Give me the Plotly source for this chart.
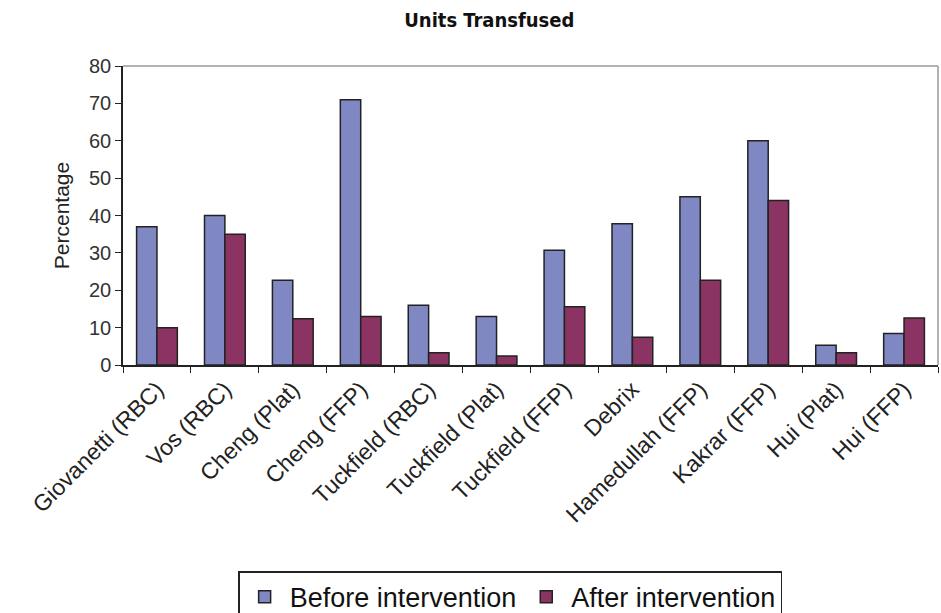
import plotly.graph_objects as go

studies = ["Giovanetti (RBC)", "Vos (RBC)", "Cheng (Plat)", "Cheng (FFP)",
           "Tuckfield (RBC)", "Tuckfield (Plat)", "Tuckfield (FFP)", "Debrix",
           "Hamedullah (FFP)", "Kakrar (FFP)", "Hui (Plat)", "Hui (FFP)"]
before = [37, 40, 22.7, 71, 16, 13, 30.7, 37.8, 45, 60, 5.3, 8.4]
after = [10, 35, 12.4, 13, 3.3, 2.4, 15.6, 7.4, 22.7, 44, 3.3, 12.6]

font = "Liberation Sans, Arial, sans-serif"

fig = go.Figure()
fig.add_trace(go.Bar(x=studies, y=before, name="Before intervention",
                     marker=dict(color="#8088C4", line=dict(color="#222222", width=1.5))))
fig.add_trace(go.Bar(x=studies, y=after, name="After intervention",
                     marker=dict(color="#8B3463", line=dict(color="#222222", width=1.5))))

fig.update_layout(
    width=941, height=613,
    margin=dict(l=123, r=3, t=66, b=248, autoexpand=False),
    paper_bgcolor="white", plot_bgcolor="white",
    barmode="group", bargap=0.4, bargroupgap=0,
    title=dict(text="<b>Units Transfused</b>", x=0.52, xanchor="center", y=0.967, yanchor="middle",
               font=dict(family="DejaVu Sans Condensed, Liberation Sans, sans-serif", size=20,
                         color="#111111")),
    font=dict(family=font, color="#222222"),
    xaxis=dict(showline=True, linecolor="#222222", linewidth=1.5, ticks="outside", ticklen=6,
               tickcolor="#222222", tickson="boundaries", tickangle=-45, automargin=False,
               tickfont=dict(size=23, color="#222222"), mirror=False),
    yaxis=dict(range=[0, 80], dtick=10, showgrid=False, showline=True, linecolor="#222222",
               linewidth=1.5, ticks="outside", ticklen=6, tickcolor="#222222", automargin=False,
               tickfont=dict(size=20, color="#333333"),
               title=dict(text="Percentage", font=dict(size=21, color="#222222"), standoff=14)),
    legend=dict(orientation="h", x=0.475, xanchor="center", y=-0.69, yanchor="top",
                bordercolor="#222222", borderwidth=1.5, font=dict(size=27, color="#111111"),
                itemwidth=40),
    showlegend=True,
)

# light frame on the top and right of the plot area
fig.add_shape(type="line", xref="paper", yref="paper", x0=0, x1=1, y0=1, y1=1,
              line=dict(color="#999999", width=1.5))
fig.add_shape(type="line", xref="paper", yref="paper", x0=1, x1=1, y0=0, y1=1,
              line=dict(color="#999999", width=1.5))

fig.write_html("out.html")
